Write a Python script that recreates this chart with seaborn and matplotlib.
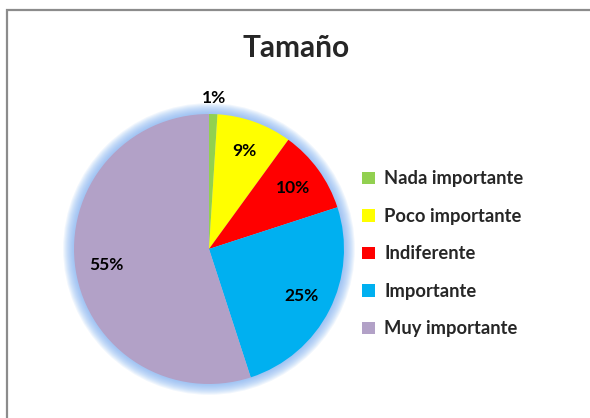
import matplotlib.pyplot as plt
import matplotlib.patches as mpatches
import numpy as np
import seaborn as sns

# Chart data
categories = ['Nada importante', 'Poco importante', 'Indiferente', 'Importante', 'Muy importante']
values = [1, 9, 10, 25, 55]
colors = ['#92D050', '#FFFF00', '#FF0000', '#00B0F0', '#B2A1C7']

sns.set_theme(style='white')
plt.rcParams['font.family'] = ['Lato', 'DejaVu Sans']
plt.rcParams['font.weight'] = 'bold'

W, H = 590, 418
fig = plt.figure(figsize=(W / 100, H / 100), dpi=100)

# outer chart frame (right and bottom edges fall outside the image)
fig.patches.append(mpatches.Rectangle((7 / W, -0.1), 1.2, 1 - 10 / H + 0.1,
                                      transform=fig.transFigure, fill=False,
                                      edgecolor='#8c8c8c', lw=1.6))

# pie axes: center (209, 249) px, radius 135 px
cx, cy, R, k = 209, 249, 135, 1.3
side = 2 * R * k
ax = fig.add_axes([(cx - side / 2) / W, (H - cy - side / 2) / H, side / W, side / H])

# soft blue glow around the pie
for i in range(10):
    r = 1.08 - i * 0.008
    ax.add_patch(mpatches.Circle((0, 0), r, color='#7DB0F2', alpha=0.11, lw=0, zorder=0))

wedges, texts, autotexts = ax.pie(values, colors=colors, startangle=90, counterclock=False,
                                  autopct='%1.0f%%', pctdistance=0.77,
                                  wedgeprops=dict(linewidth=0),
                                  textprops=dict(fontsize=12.5, fontweight='bold', color='black'))
for w in wedges:
    w.set_zorder(2)
for t in autotexts:
    t.set_zorder(3)
ax.set_xlim(-k, k)
ax.set_ylim(-k, k)
ax.set_aspect('equal')
ax.axis('off')

# the 1% label sits outside the pie
w0 = wedges[0]
mid = np.deg2rad((w0.theta1 + w0.theta2) / 2)
autotexts[0].set_position((1.12 * np.cos(mid), 1.12 * np.sin(mid)))

fig.text(296 / W, 1 - 48 / H, 'Tamaño', ha='center', va='center',
         fontsize=21.5, fontweight='bold')

fig.legend(wedges, categories, loc='upper left', bbox_to_anchor=(355 / W, 1 - 163 / H),
           frameon=False, handlelength=0.7, handleheight=0.7,
           handletextpad=0.5, labelspacing=1.12, borderaxespad=0,
           prop=dict(weight='bold', size=13.2))

fig.savefig('out.png', dpi=100)
